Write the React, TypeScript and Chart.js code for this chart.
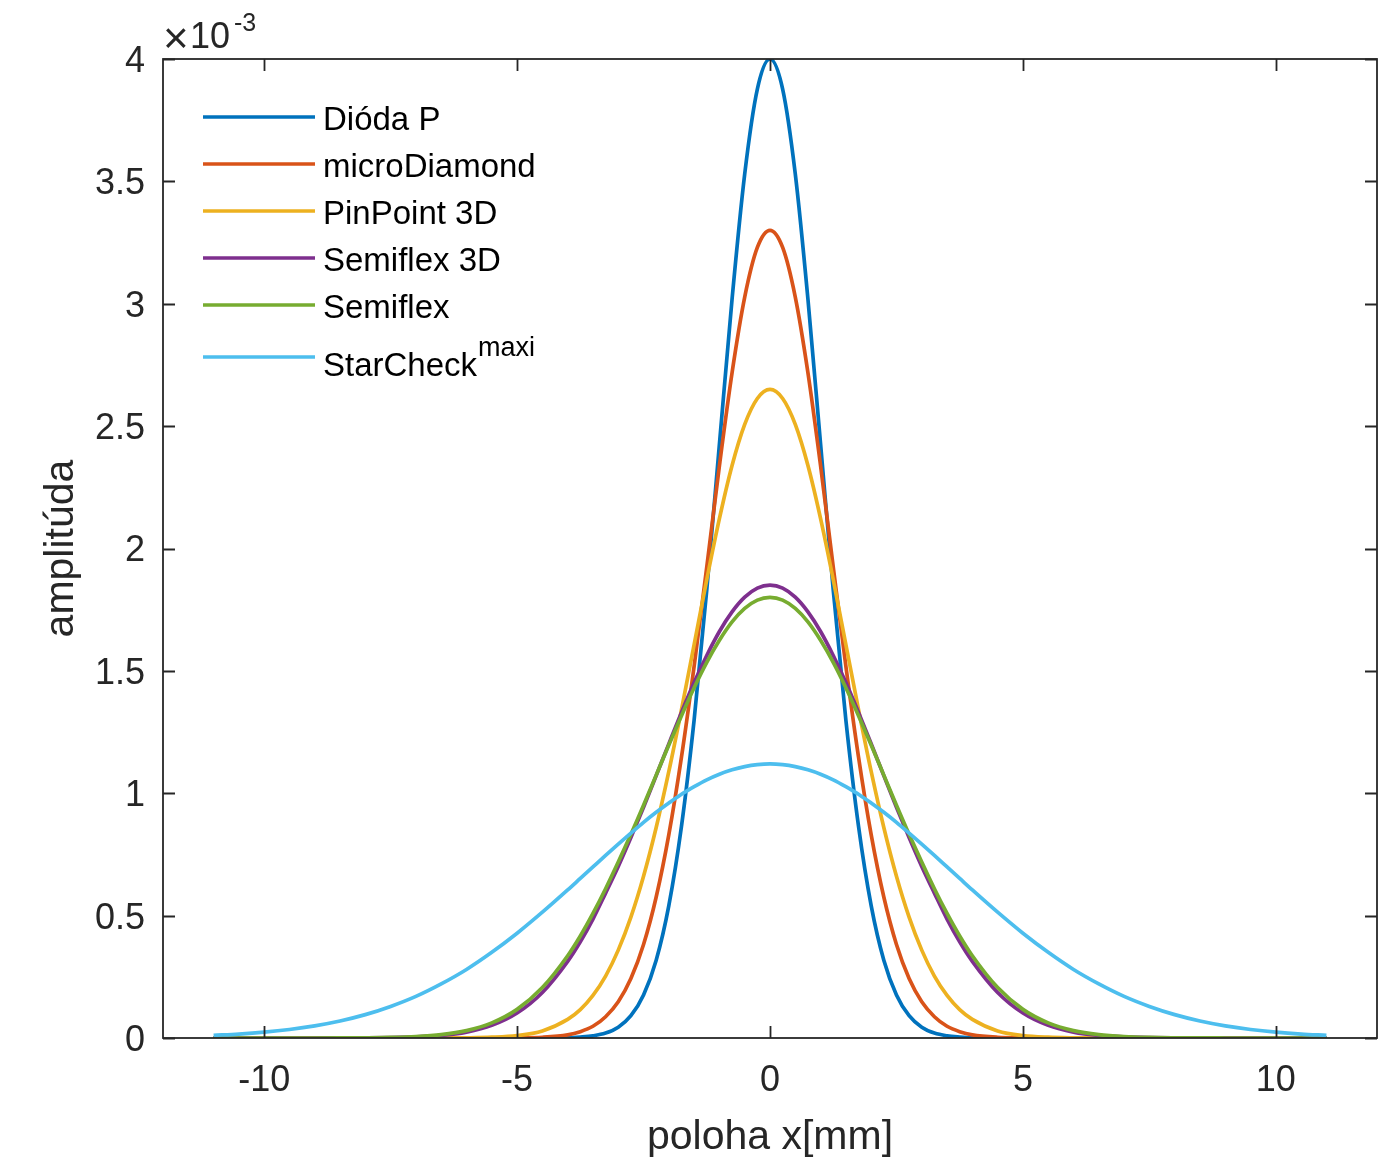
import React, { useEffect, useRef } from "react";
import { Chart, registerables } from "chart.js";

Chart.register(...registerables);

// poloha x [mm]
const positionsMm = [
  -11, -10.5, -10, -9.5, -9, -8.5, -8, -7.5, -7, -6.5, -6, -5.5, -5, -4.5,
  -4, -3.75, -3.5, -3.25, -3, -2.75, -2.5, -2.25, -2, -1.75, -1.5, -1.25, -1, -0.75, -0.5, -0.25,
  0,
  0.25, 0.5, 0.75, 1, 1.25, 1.5, 1.75, 2, 2.25, 2.5, 2.75, 3, 3.25, 3.5, 3.75, 4,
  4.5, 5, 5.5, 6, 6.5, 7, 7.5, 8, 8.5, 9, 9.5, 10, 10.5, 11,
];

// amplitúda (x 10^-3)
const diodaP = [
  0, 0, 0, 0, 0, 0, 0, 0, 0, 0, 0, 0, 0, 0.0002,
  0.001, 0.004, 0.009, 0.02, 0.044, 0.091, 0.176, 0.318, 0.541, 0.865, 1.299, 1.831, 2.426, 3.019, 3.53, 3.877,
  4.0,
  3.877, 3.53, 3.019, 2.426, 1.831, 1.299, 0.865, 0.541, 0.318, 0.176, 0.091, 0.044, 0.02, 0.009, 0.004, 0.001,
  0.0002, 0, 0, 0, 0, 0, 0, 0, 0, 0, 0, 0, 0, 0,
];

const microDiamond = [
  0, 0, 0, 0, 0, 0, 0, 0, 0, 0, 0, 0.0001, 0.0006, 0.0031,
  0.013, 0.026, 0.048, 0.087, 0.148, 0.243, 0.382, 0.576, 0.831, 1.148, 1.519, 1.925, 2.338, 2.718, 3.027, 3.23,
  3.3,
  3.23, 3.027, 2.718, 2.338, 1.925, 1.519, 1.148, 0.831, 0.576, 0.382, 0.243, 0.148, 0.087, 0.048, 0.026, 0.013,
  0.0031, 0.0006, 0.0001, 0, 0, 0, 0, 0, 0, 0, 0, 0, 0, 0,
];

const pinPoint3D = [
  0, 0, 0, 0, 0, 0, 0, 0, 0, 0.0002, 0.0009, 0.0032, 0.01, 0.029,
  0.076, 0.116, 0.174, 0.253, 0.359, 0.494, 0.661, 0.86, 1.089, 1.342, 1.607, 1.873, 2.122, 2.339, 2.507, 2.613,
  2.65,
  2.613, 2.507, 2.339, 2.122, 1.873, 1.607, 1.342, 1.089, 0.86, 0.661, 0.494, 0.359, 0.253, 0.174, 0.116, 0.076,
  0.029, 0.01, 0.0032, 0.0009, 0.0002, 0, 0, 0, 0, 0, 0, 0, 0, 0,
];

const semiflex3D = [
  0, 0, 0, 0, 0.0001, 0.0002, 0.0005, 0.0015, 0.0042, 0.0104, 0.0241, 0.0516, 0.102, 0.186,
  0.313, 0.393, 0.486, 0.592, 0.701, 0.819, 0.943, 1.072, 1.202, 1.33, 1.452, 1.563, 1.661, 1.741, 1.801, 1.838,
  1.85,
  1.838, 1.801, 1.741, 1.661, 1.563, 1.452, 1.33, 1.202, 1.072, 0.943, 0.819, 0.701, 0.592, 0.486, 0.393, 0.313,
  0.186, 0.102, 0.0516, 0.0241, 0.0104, 0.0042, 0.0015, 0.0005, 0.0002, 0.0001, 0, 0, 0, 0,
];

const semiflex = [
  0, 0, 0, 0, 0.0001, 0.0003, 0.0009, 0.0023, 0.0058, 0.0137, 0.0302, 0.0617, 0.117, 0.206,
  0.336, 0.417, 0.509, 0.61, 0.719, 0.832, 0.951, 1.074, 1.197, 1.317, 1.431, 1.535, 1.625, 1.7, 1.755, 1.789,
  1.8,
  1.789, 1.755, 1.7, 1.625, 1.535, 1.431, 1.317, 1.197, 1.074, 0.951, 0.832, 0.719, 0.61, 0.509, 0.417, 0.336,
  0.206, 0.117, 0.0617, 0.0302, 0.0137, 0.0058, 0.0023, 0.0009, 0.0003, 0.0001, 0, 0, 0, 0,
];

const starCheckMaxi = [
  0.0107, 0.0161, 0.0239, 0.0348, 0.0497, 0.0696, 0.0955, 0.129, 0.17, 0.221, 0.28, 0.35, 0.428, 0.514,
  0.605, 0.652, 0.699, 0.746, 0.792, 0.837, 0.881, 0.922, 0.96, 0.996, 1.027, 1.055, 1.078, 1.096, 1.109, 1.117,
  1.12,
  1.117, 1.109, 1.096, 1.078, 1.055, 1.027, 0.996, 0.96, 0.922, 0.881, 0.837, 0.792, 0.746, 0.699, 0.652, 0.605,
  0.514, 0.428, 0.35, 0.28, 0.221, 0.17, 0.129, 0.0955, 0.0696, 0.0497, 0.0348, 0.0239, 0.0161, 0.0107,
];

const seriesValues = [diodaP, microDiamond, pinPoint3D, semiflex3D, semiflex, starCheckMaxi];
const seriesNames = ["Dióda P", "microDiamond", "PinPoint 3D", "Semiflex 3D", "Semiflex", "StarCheck"];
const seriesSuperscripts = ["", "", "", "", "", "maxi"];
const seriesColors = ["#0072BD", "#D95319", "#EDB120", "#7E2F8E", "#77AC30", "#4DBEEE"];

const xTickValues = [-10, -5, 0, 5, 10];
const yTickValues = [0, 0.5, 1, 1.5, 2, 2.5, 3, 3.5, 4];
const xTitle = "poloha x[mm]";
const yTitle = "amplitúda";
const exponentBase = "10";
const exponentPower = "-3";

const FONT = "'Liberation Sans', Arial, Helvetica, sans-serif";
const INK = "#262626";

const boxPlugin = {
  id: "matlabBox",
  afterDraw(chart: any) {
    const { ctx, chartArea, scales } = chart;
    const { left, right, top, bottom } = chartArea;
    const xs = scales.x;
    const ys = scales.y;
    ctx.save();
    ctx.strokeStyle = INK;
    ctx.lineWidth = 1.8;
    ctx.strokeRect(left, top, right - left, bottom - top);
    const tl = 12;
    ctx.beginPath();
    xTickValues.forEach((v) => {
      const px = Math.round(xs.getPixelForValue(v)) + 0.5;
      ctx.moveTo(px, bottom);
      ctx.lineTo(px, bottom - tl);
      ctx.moveTo(px, top);
      ctx.lineTo(px, top + tl);
    });
    yTickValues.forEach((v) => {
      const py = Math.round(ys.getPixelForValue(v)) + 0.5;
      ctx.moveTo(left, py);
      ctx.lineTo(left + tl, py);
      ctx.moveTo(right, py);
      ctx.lineTo(right - tl, py);
    });
    ctx.stroke();

    // exponent label  (x10^-3)
    ctx.fillStyle = INK;
    ctx.textBaseline = "alphabetic";
    ctx.textAlign = "left";
    ctx.font = `44px ${FONT}`;
    ctx.fillText("×", 163, 53);
    ctx.font = `36px ${FONT}`;
    ctx.fillText(exponentBase, 190, 48);
    const wb = ctx.measureText(exponentBase).width;
    ctx.font = `25px ${FONT}`;
    ctx.fillText(exponentPower, 190 + wb + 4, 31);

    // legend
    const lineX1 = 203;
    const lineX2 = 315;
    const rowYs = [117, 164, 211, 258, 305, 357];
    seriesNames.forEach((name, i) => {
      const yy = rowYs[i];
      ctx.strokeStyle = seriesColors[i];
      ctx.lineWidth = 3.4;
      ctx.beginPath();
      ctx.moveTo(lineX1, yy);
      ctx.lineTo(lineX2, yy);
      ctx.stroke();
      ctx.fillStyle = "#000000";
      ctx.font = `33px ${FONT}`;
      const sup = seriesSuperscripts[i];
      const baseY = sup ? yy + 19 : yy + 13;
      ctx.fillText(name, 323, baseY);
      if (sup) {
        const w = ctx.measureText(name).width;
        ctx.font = `27px ${FONT}`;
        ctx.fillText(sup, 323 + w + 1, yy - 1);
      }
    });
    ctx.restore();
  },
};

export default function App() {
  const canvasRef = useRef<HTMLCanvasElement | null>(null);

  useEffect(() => {
    if (!canvasRef.current) return;
    const datasets = seriesValues.map((vals, i) => ({
      label: seriesNames[i] + seriesSuperscripts[i],
      data: positionsMm.map((x, j) => ({ x, y: vals[j] })),
      borderColor: seriesColors[i],
      backgroundColor: seriesColors[i],
      borderWidth: 3.7,
      pointRadius: 0,
      fill: false,
      cubicInterpolationMode: "monotone" as const,
      order: seriesValues.length - 1 - i,
    }));

    const chart = new Chart(canvasRef.current, {
      type: "line",
      data: { datasets },
      options: {
        responsive: false,
        animation: false,
        devicePixelRatio: 1,
        layout: { padding: { left: 0, right: 19, top: 59, bottom: 0 } },
        plugins: {
          legend: { display: false },
          tooltip: { enabled: false },
        },
        scales: {
          x: {
            type: "linear",
            min: -12,
            max: 12,
            afterBuildTicks: (s: any) => {
              s.ticks = xTickValues.map((v) => ({ value: v }));
            },
            afterFit: (s: any) => {
              s.height = 120;
            },
            grid: { display: false, drawTicks: false },
            border: { display: false },
            ticks: {
              color: INK,
              font: { family: FONT, size: 36 },
              padding: 21,
              maxRotation: 0,
              autoSkip: false,
              callback: (v: any) => String(v),
            },
            title: {
              display: true,
              text: xTitle,
              color: INK,
              font: { family: FONT, size: 41, lineHeight: 1.0 },
              padding: { top: 0, bottom: 0 },
            },
          },
          y: {
            type: "linear",
            min: 0,
            max: 4,
            afterBuildTicks: (s: any) => {
              s.ticks = yTickValues.map((v) => ({ value: v }));
            },
            afterFit: (s: any) => {
              s.width = 163;
            },
            grid: { display: false, drawTicks: false },
            border: { display: false },
            ticks: {
              color: INK,
              font: { family: FONT, size: 36 },
              padding: 18,
              labelOffset: 3,
              autoSkip: false,
              callback: (v: any) => String(v),
            },
            title: {
              display: true,
              text: yTitle,
              color: INK,
              font: { family: FONT, size: 41, lineHeight: 1.2 },
              padding: { top: 37, bottom: 0 },
            },
          },
        },
      },
      plugins: [boxPlugin],
    });
    return () => chart.destroy();
  }, []);

  return (
    <div style={{ position: "absolute", left: 0, top: 0, width: 1396, height: 1158, background: "#ffffff" }}>
      <canvas ref={canvasRef} width={1396} height={1158} style={{ display: "block" }} />
    </div>
  );
}
